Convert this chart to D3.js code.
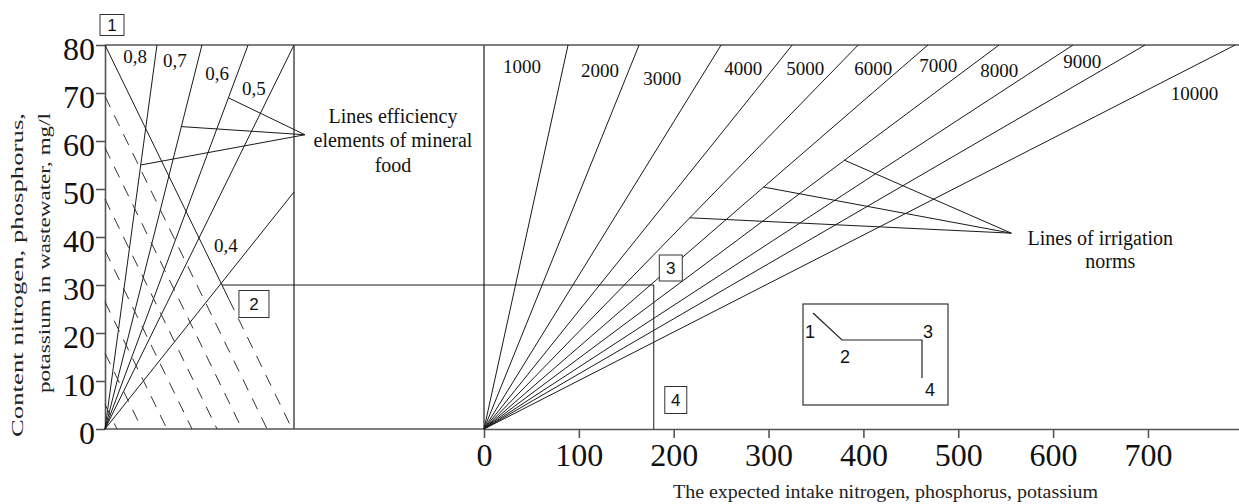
<!DOCTYPE html>
<html>
<head>
    <meta charset="utf-8">
    <title>Nomogram irrigation norms</title>
    <script src="https://d3js.org/d3.v7.min.js"></script>
    <style>
        body { margin: 0; background: #fff; }
        svg text { font-family: "Liberation Serif", "Times New Roman", serif; fill: #111; }
        .frame { stroke: #555; stroke-width: 1.6; fill: none; }
        .ray { stroke: #1a1a1a; stroke-width: 1; fill: none; }
        .dash { stroke: #333; stroke-width: 1; stroke-dasharray: 12, 9; fill: none; }
        .axis path, .axis line { stroke: #555; stroke-width: 1.6; }
        .box rect { fill: #fff; stroke: #333; stroke-width: 1; }
    </style>
</head>
<body>
<svg width="1239" height="504"></svg>
<script>
    // axes
    var yTicks = [0, 10, 20, 30, 40, 50, 60, 70, 80];
    var xTicks = [0, 100, 200, 300, 400, 500, 600, 700];

    // left panel: lines of efficiency (x where each line reaches 80 mg/l, panel units 0..100)
    var effLabels = ["0,8", "0,7", "0,6", "0,5", "0,4"];
    var effTopX = [27.5, 51.3, 75.7, 100, 162];
    var effLabelAt = [[15.9, 76.3], [37, 75.4], [59.3, 72.7], [78.8, 69.6], [64, 36.9]];

    // descending construction line and its dashed parallels (start value on the left axis)
    var mainStart = 80, mainSlope = -0.808, mainSolidTo = 27;
    var dashStarts = [69.3, 58.6, 47.9, 37.2, 26.5, 15.8, 5.1];

    // right panel: lines of irrigation norms (intake where each line reaches 80 mg/l)
    var normLabels = ["1000", "2000", "3000", "4000", "5000", "6000", "7000", "8000", "9000", "10000"];
    var normTopX = [88.6, 163.5, 250, 325, 394.5, 468, 543, 621, 697, 792];
    var normLabelAt = [[40.1, 74.2], [122.4, 73.3], [187.8, 71.7], [273.2, 73.75], [338.6, 73.75],
                       [410.3, 73.75], [478.9, 74.4], [543.2, 73.3], [630.8, 75.2], [749, 68.5]];

    // worked example: 30 mg/l -> intake 179
    var exConc = 30, exIntake = 179;

    // leader lines: [line index, concentration]
    var effPointers = [[0, 55], [1, 63], [2, 69]], effApex = [105.8, 61.3];
    var normPointers = [[4, 44], [5, 50.4], [6, 56]], normApex = [556, 40.8];

    var serif = "'Liberation Serif', 'Times New Roman', serif";
    var sans = "'Liberation Sans', Arial, sans-serif";

    var svg = d3.select("svg");

    var y = d3.scaleLinear().domain([0, 80]).range([429, 45]);
    var xL = d3.scaleLinear().domain([0, 100]).range([105, 294]);
    var xR = d3.scaleLinear().domain([0, 796]).range([484, 1239]);

    // frame
    svg.append("line").attr("class", "frame")
        .attr("x1", xL(0)).attr("x2", xR(796)).attr("y1", y(80)).attr("y2", y(80));
    svg.append("line").attr("class", "frame")
        .attr("x1", xL(0)).attr("x2", xR(0)).attr("y1", y(0)).attr("y2", y(0));
    svg.append("line").attr("class", "frame")
        .attr("x1", xL(100)).attr("x2", xL(100)).attr("y1", y(80)).attr("y2", y(0));
    svg.append("line").attr("class", "frame")
        .attr("x1", xR(0)).attr("x2", xR(0)).attr("y1", y(80)).attr("y2", y(0));

    var yAxis = svg.append("g").attr("class", "axis")
        .attr("transform", "translate(" + xL(0) + ",0)")
        .call(d3.axisLeft(y).tickValues(yTicks).tickSize(9).tickSizeOuter(0).tickPadding(1));
    yAxis.selectAll("text").attr("dy", "0.45em")
        .style("font-family", serif).style("font-size", "32px").style("fill", "#111");

    var xAxis = svg.append("g").attr("class", "axis")
        .attr("transform", "translate(0," + y(0) + ")")
        .call(d3.axisBottom(xR).tickValues(xTicks).tickSize(9).tickSizeOuter(0));
    xAxis.selectAll("text").attr("y", 37).attr("dy", 0)
        .style("font-family", serif).style("font-size", "32px").style("fill", "#111");

    // efficiency rays
    function effEnd(t) {
        return t <= 100 ? [t, 80] : [100, 80 * 100 / t];
    }
    svg.selectAll(".eff").data(effTopX).enter().append("line")
        .attr("class", "ray")
        .attr("x1", xL(0)).attr("y1", y(0))
        .attr("x2", function (d) { return xL(effEnd(d)[0]); })
        .attr("y2", function (d) { return y(effEnd(d)[1]); });

    svg.selectAll(".effLabel").data(effLabels).enter().append("text")
        .attr("x", function (d, i) { return xL(effLabelAt[i][0]); })
        .attr("y", function (d, i) { return y(effLabelAt[i][1]); })
        .attr("text-anchor", "middle")
        .style("font-size", "19px")
        .text(function (d) { return d; });

    // descending line: solid to point 2 area, dashed to the bottom
    function onMain(v) { return (v - mainStart) / mainSlope; }
    svg.append("line").attr("class", "ray")
        .attr("x1", xL(0)).attr("y1", y(mainStart))
        .attr("x2", xL(onMain(mainSolidTo))).attr("y2", y(mainSolidTo));
    svg.append("line").attr("class", "dash")
        .attr("x1", xL(onMain(mainSolidTo))).attr("y1", y(mainSolidTo))
        .attr("x2", xL(onMain(0))).attr("y2", y(0));
    svg.selectAll(".dashes").data(dashStarts).enter().append("line")
        .attr("class", "dash")
        .attr("x1", xL(0)).attr("y1", function (d) { return y(d); })
        .attr("x2", function (d) { return xL(-d / mainSlope); }).attr("y2", y(0));

    // norm rays
    svg.selectAll(".norm").data(normTopX).enter().append("line")
        .attr("class", "ray")
        .attr("x1", xR(0)).attr("y1", y(0))
        .attr("x2", function (d) { return xR(d); })
        .attr("y2", y(80));

    svg.selectAll(".normLabel").data(normLabels).enter().append("text")
        .attr("x", function (d, i) { return xR(normLabelAt[i][0]); })
        .attr("y", function (d, i) { return y(normLabelAt[i][1]); })
        .attr("text-anchor", "middle")
        .style("font-size", "19px")
        .text(function (d) { return d; });

    // worked example path 2 -> 3 -> 4
    svg.append("line").attr("class", "ray")
        .attr("x1", xL(onMain(exConc))).attr("y1", y(exConc))
        .attr("x2", xR(exIntake)).attr("y2", y(exConc));
    svg.append("line").attr("class", "ray")
        .attr("x1", xR(exIntake)).attr("y1", y(exConc))
        .attr("x2", xR(exIntake)).attr("y2", y(0));

    // leader lines
    svg.selectAll(".effPtr").data(effPointers).enter().append("line")
        .attr("class", "ray")
        .attr("x1", xL(effApex[0])).attr("y1", y(effApex[1]))
        .attr("x2", function (d) { return xL(effTopX[d[0]] * d[1] / 80); })
        .attr("y2", function (d) { return y(d[1]); });
    svg.selectAll(".normPtr").data(normPointers).enter().append("line")
        .attr("class", "ray")
        .attr("x1", xR(normApex[0])).attr("y1", y(normApex[1]))
        .attr("x2", function (d) { return xR(normTopX[d[0]] * d[1] / 80); })
        .attr("y2", function (d) { return y(d[1]); });

    var effNote = svg.append("text")
        .attr("text-anchor", "middle").style("font-size", "20px");
    ["Lines efficiency", "elements of mineral", "food"].forEach(function (s, i) {
        effNote.append("tspan")
            .attr("x", xL(effApex[0]) + 88)
            .attr("y", y(effApex[1]) - 12 + i * 24.5)
            .text(s);
    });
    var normNote = svg.append("text")
        .attr("text-anchor", "middle").style("font-size", "20px");
    ["Lines of irrigation", "norms"].forEach(function (s, i) {
        normNote.append("tspan")
            .attr("x", xR(normApex[0]) + 89 + i * 10)
            .attr("y", y(normApex[1]) + 12 + i * 23)
            .text(s);
    });

    // numbered points
    var boxes = [
        {n: "1", x: xL(0), y: y(80), dx: 7, dy: -20, w: 24, h: 21},
        {n: "2", x: xL(onMain(exConc)), y: y(exConc), dx: 32, dy: 19, w: 30, h: 27},
        {n: "3", x: xR(exIntake), y: y(exConc), dx: 17, dy: -17, w: 23, h: 26},
        {n: "4", x: xR(exIntake), y: y(0), dx: 22, dy: -29, w: 22, h: 27}
    ];
    var box = svg.selectAll(".box").data(boxes).enter().append("g")
        .attr("class", "box")
        .attr("transform", function (d) {
            return "translate(" + (d.x + d.dx) + "," + (d.y + d.dy) + ")";
        });
    box.append("rect")
        .attr("x", function (d) { return -d.w / 2; })
        .attr("y", function (d) { return -d.h / 2; })
        .attr("width", function (d) { return d.w; })
        .attr("height", function (d) { return d.h; });
    box.append("text")
        .attr("text-anchor", "middle").attr("dy", "0.36em")
        .style("font-family", sans).style("font-size", "17px")
        .text(function (d) { return d.n; });

    // inset legend
    var inset = svg.append("g").attr("transform", "translate(803,304)");
    inset.append("rect").attr("width", 145).attr("height", 101)
        .attr("fill", "#fff").attr("stroke", "#333").attr("stroke-width", 1.2);
    inset.append("path").attr("d", "M10,9L39,36L119,36L119,74")
        .attr("fill", "none").attr("stroke", "#222").attr("stroke-width", 1.2);
    [["1", 7, 34], ["2", 42, 59], ["3", 125, 34], ["4", 127, 92]].forEach(function (t) {
        inset.append("text").attr("x", t[1]).attr("y", t[2])
            .attr("text-anchor", "middle")
            .style("font-family", sans).style("font-size", "18px").text(t[0]);
    });

    // axis titles
    var yTitle = svg.append("g").attr("transform", "rotate(-90)");
    yTitle.append("text")
        .attr("x", -113).attr("y", 23)
        .attr("text-anchor", "end")
        .attr("textLength", 324).attr("lengthAdjust", "spacingAndGlyphs")
        .style("font-size", "17px").style("fill", "#222")
        .text("Content nitrogen, phosphorus,");
    yTitle.append("text")
        .attr("x", -113).attr("y", 50)
        .attr("text-anchor", "end")
        .attr("textLength", 280).attr("lengthAdjust", "spacingAndGlyphs")
        .style("font-size", "17px").style("fill", "#222")
        .text("potassium in wastewater, mg/l");

    svg.append("text")
        .attr("x", 673).attr("y", 498)
        .attr("textLength", 425).attr("lengthAdjust", "spacingAndGlyphs")
        .style("font-size", "18px").style("fill", "#222")
        .text("The expected intake nitrogen, phosphorus, potassium");
</script>
</body>
</html>
